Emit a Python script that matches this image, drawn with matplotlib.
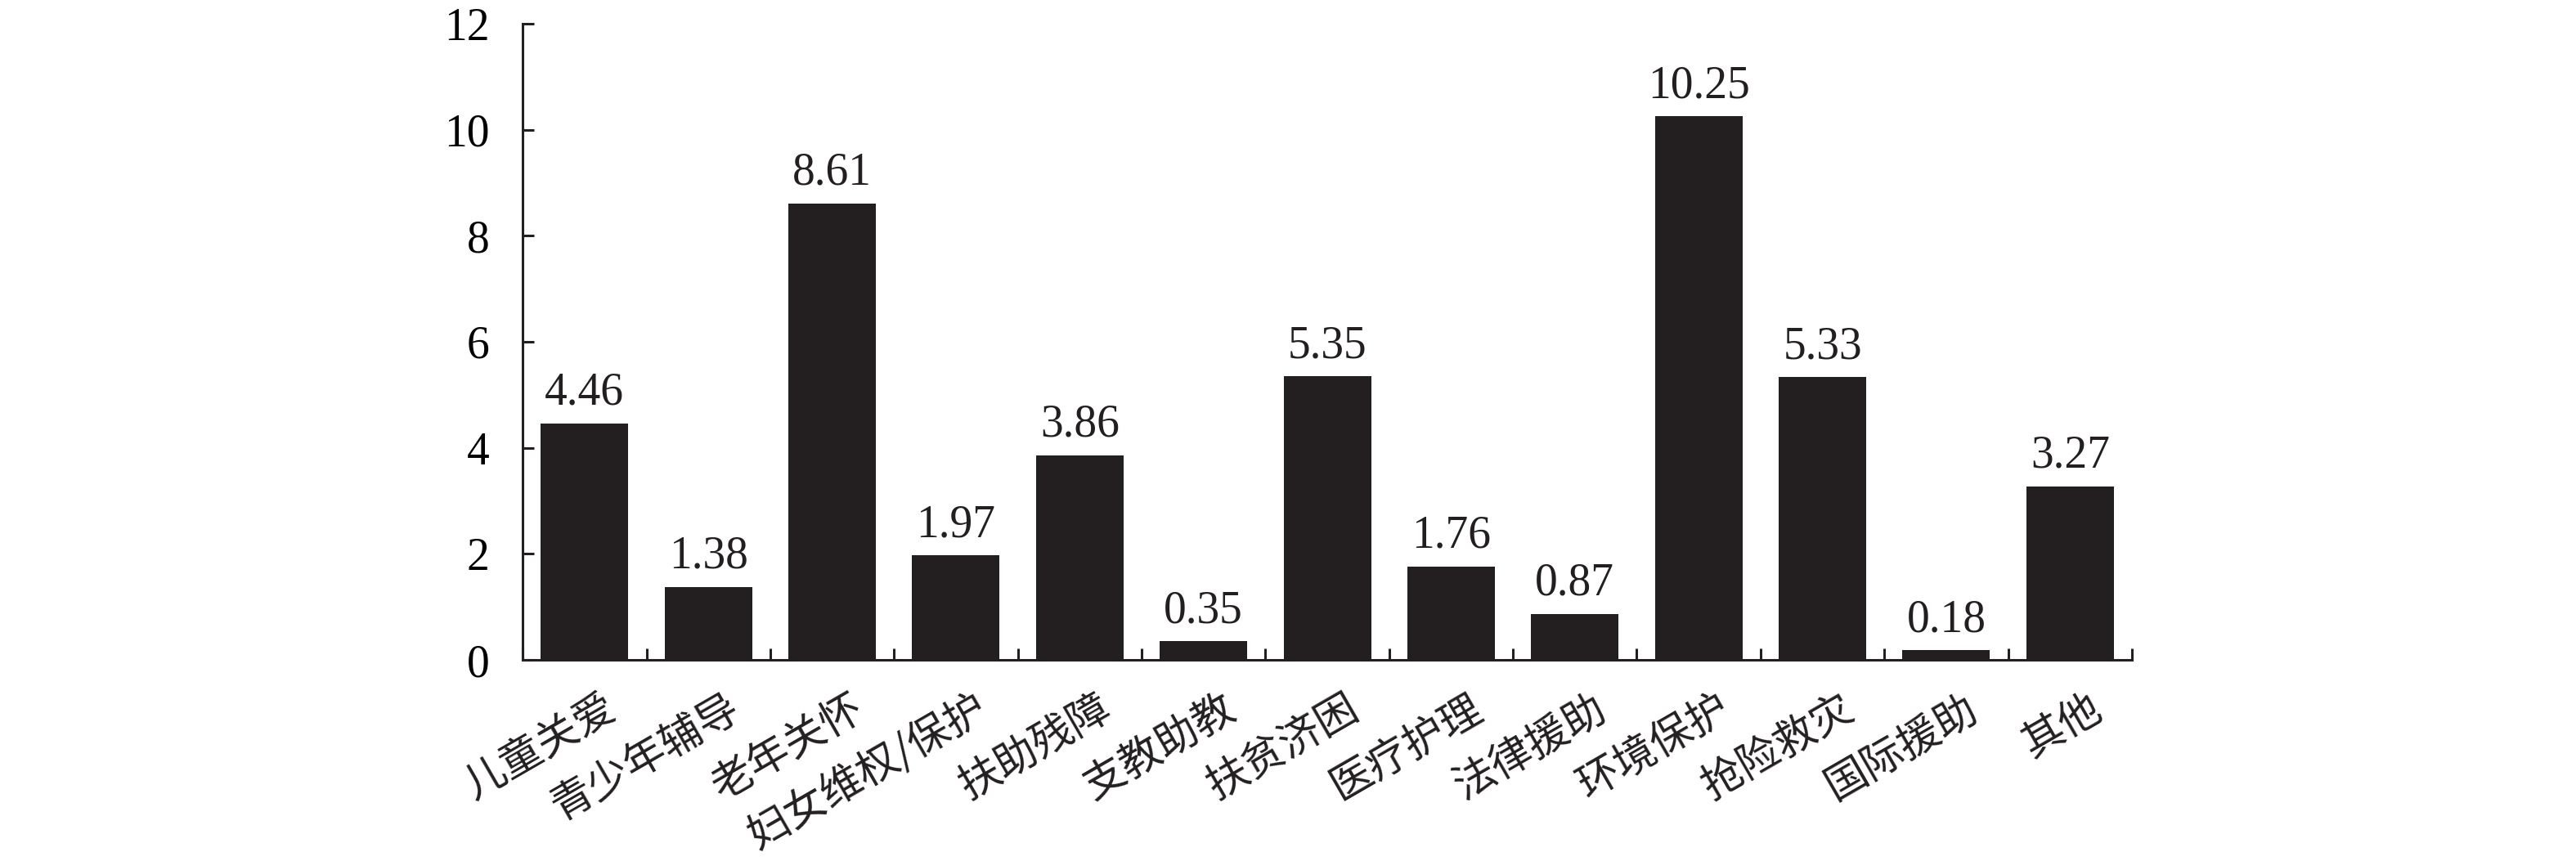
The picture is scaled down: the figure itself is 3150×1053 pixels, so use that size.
import matplotlib
matplotlib.use('Agg')
import matplotlib.pyplot as plt
import numpy as np

# 数据
categories = ['儿童关爱', '青少年辅导', '老年关怀', '妇女维权/保护', '扶助残障', '支教助教',
              '扶贫济困', '医疗护理', '法律援助', '环境保护', '抢险救灾', '国际援助', '其他']
values = [4.46, 1.38, 8.61, 1.97, 3.86, 0.35, 5.35, 1.76, 0.87, 10.25, 5.33, 0.18, 3.27]
yticks = [0, 2, 4, 6, 8, 10, 12]

bar_color = '#231f20'
num_font = 'Liberation Serif'
cjk_font = ['Noto Sans CJK SC', 'DejaVu Sans']

fig = plt.figure(figsize=(31.5, 10.53), dpi=100)
ax = fig.add_axes([0.2029, 0.2336, 0.8276 - 0.2029, 0.9725 - 0.2336])

x = np.arange(len(categories))
bars = ax.bar(x, values, width=0.707, color=bar_color, zorder=3)

# 数值标签
for xi, v in zip(x, values):
    ax.annotate(f'{v:.2f}', (xi, v), xytext=(0, 8), textcoords='offset points',
                ha='center', va='bottom', fontsize=40, family=num_font, color='#231f20')

ax.set_xlim(-0.5, len(categories) - 0.5)
ax.set_ylim(0, 12)
ax.set_yticks(yticks)
ax.set_yticklabels([str(t) for t in yticks], fontsize=40, family=num_font)

# x轴刻度在类别之间
ax.set_xticks(np.arange(len(categories) + 1) - 0.5)
ax.set_xticklabels([])
ax.tick_params(axis='x', direction='in', length=10, width=2.2, color='#231f20')
ax.tick_params(axis='y', direction='in', length=10, width=2.2, color='#231f20', pad=29)

for s in ['top', 'right']:
    ax.spines[s].set_visible(False)
for s in ['left', 'bottom']:
    ax.spines[s].set_linewidth(2.2)
    ax.spines[s].set_color('#231f20')

# 类别标签（倾斜）
for xi, name in zip(x, categories):
    ax.text(xi + 0.14, -0.5, name, rotation=30, rotation_mode='anchor',
            ha='right', va='top', fontsize=37, family=cjk_font, fontweight='light',
            color='#231f20')

fig.savefig('out.png', dpi=100)
